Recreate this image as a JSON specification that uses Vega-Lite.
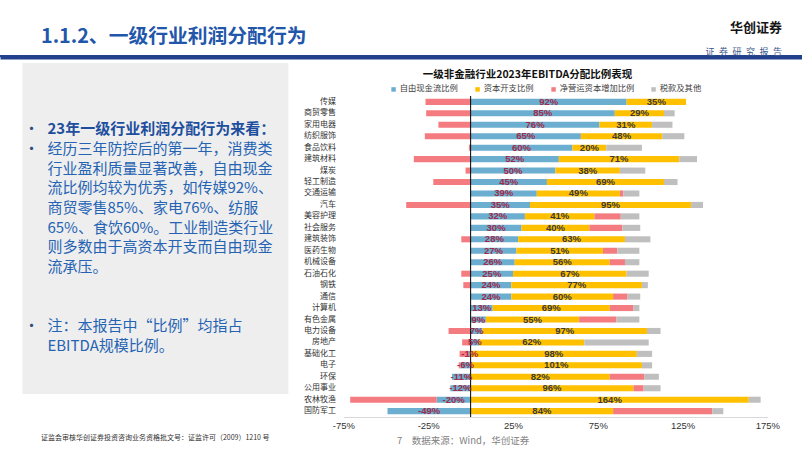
{
  "$schema": "https://vega.github.io/schema/vega-lite/v6.json",
  "background": "white",
  "padding": {"left": 0, "top": 21, "right": 0, "bottom": 6},
  "config": {
    "font": "Noto Sans CJK SC",
    "view": {"stroke": null},
    "locale": {"number": {"decimal": ".", "thousands": ",", "grouping": [3], "currency": ["", ""], "minus": "-"}}
  },
  "title": {
    "text": "华创证券\u00a0\u00a0\u00a0",
    "subtitle": "证\u2002券\u2002研\u2002究\u2002报\u2002告",
    "anchor": "end",
    "frame": "bounds",
    "dx": -20,
    "offset": -29.5,
    "fontSize": 13,
    "fontWeight": "bold",
    "color": "#151515",
    "subtitleFontSize": 9,
    "subtitleColor": "#3B5A8C",
    "subtitlePadding": 13
  },
  "datasets": {
    "series": [
      {"项目": "自由现金流比例", "序": 1},
      {"项目": "资本开支比例", "序": 2},
      {"项目": "净营运资本增加比例", "序": 3},
      {"项目": "税款及其他", "序": 4}
    ],
    "notes": [
      {"行": 0, "段": "标题", "项": "•", "文": "23年一级行业利润分配行为来看："},
      {"行": 1, "段": "正文", "项": "•", "文": "经历三年防控后的第一年，消费类"},
      {"行": 2, "段": "正文", "文": "行业盈利质量显著改善，自由现金"},
      {"行": 3, "段": "正文", "文": "流比例均较为优秀，如传媒92%、"},
      {"行": 4, "段": "正文", "文": "商贸零售85%、家电76%、纺服"},
      {"行": 5, "段": "正文", "文": "65%、食饮60%。工业制造类行业"},
      {"行": 6, "段": "正文", "文": "则多数由于高资本开支而自由现金"},
      {"行": 7, "段": "正文", "文": "流承压。"},
      {"行": 10, "段": "注", "项": "•", "文": "注：本报告中“比例”均指占"},
      {"行": 11, "段": "注", "文": "EBITDA规模比例。"}
    ],
    "rows": [
      {"行业": "传媒", "项目": "自由现金流比例", "值": 0.92},
      {"行业": "传媒", "项目": "资本开支比例", "值": 0.35},
      {"行业": "传媒", "项目": "净营运资本增加比例", "值": -0.266},
      {"行业": "商贸零售", "项目": "自由现金流比例", "值": 0.85},
      {"行业": "商贸零售", "项目": "资本开支比例", "值": 0.29},
      {"行业": "商贸零售", "项目": "净营运资本增加比例", "值": -0.262},
      {"行业": "商贸零售", "项目": "税款及其他", "值": 0.063},
      {"行业": "家用电器", "项目": "自由现金流比例", "值": 0.76},
      {"行业": "家用电器", "项目": "资本开支比例", "值": 0.31},
      {"行业": "家用电器", "项目": "净营运资本增加比例", "值": -0.19},
      {"行业": "家用电器", "项目": "税款及其他", "值": 0.12},
      {"行业": "纺织服饰", "项目": "自由现金流比例", "值": 0.65},
      {"行业": "纺织服饰", "项目": "资本开支比例", "值": 0.48},
      {"行业": "纺织服饰", "项目": "净营运资本增加比例", "值": -0.27},
      {"行业": "纺织服饰", "项目": "税款及其他", "值": 0.13},
      {"行业": "食品饮料", "项目": "自由现金流比例", "值": 0.60},
      {"行业": "食品饮料", "项目": "资本开支比例", "值": 0.20},
      {"行业": "食品饮料", "项目": "净营运资本增加比例", "值": -0.01},
      {"行业": "食品饮料", "项目": "税款及其他", "值": 0.21},
      {"行业": "建筑材料", "项目": "自由现金流比例", "值": 0.52},
      {"行业": "建筑材料", "项目": "资本开支比例", "值": 0.71},
      {"行业": "建筑材料", "项目": "净营运资本增加比例", "值": -0.335},
      {"行业": "建筑材料", "项目": "税款及其他", "值": 0.105},
      {"行业": "煤炭", "项目": "自由现金流比例", "值": 0.50},
      {"行业": "煤炭", "项目": "资本开支比例", "值": 0.38},
      {"行业": "煤炭", "项目": "净营运资本增加比例", "值": -0.03},
      {"行业": "煤炭", "项目": "税款及其他", "值": 0.15},
      {"行业": "轻工制造", "项目": "自由现金流比例", "值": 0.45},
      {"行业": "轻工制造", "项目": "资本开支比例", "值": 0.69},
      {"行业": "轻工制造", "项目": "净营运资本增加比例", "值": -0.22},
      {"行业": "轻工制造", "项目": "税款及其他", "值": 0.08},
      {"行业": "交通运输", "项目": "自由现金流比例", "值": 0.39},
      {"行业": "交通运输", "项目": "资本开支比例", "值": 0.49},
      {"行业": "交通运输", "项目": "净营运资本增加比例", "值": 0.02},
      {"行业": "交通运输", "项目": "税款及其他", "值": 0.095},
      {"行业": "汽车", "项目": "自由现金流比例", "值": 0.35},
      {"行业": "汽车", "项目": "资本开支比例", "值": 0.95},
      {"行业": "汽车", "项目": "净营运资本增加比例", "值": -0.38},
      {"行业": "汽车", "项目": "税款及其他", "值": 0.07},
      {"行业": "美容护理", "项目": "自由现金流比例", "值": 0.32},
      {"行业": "美容护理", "项目": "资本开支比例", "值": 0.41},
      {"行业": "美容护理", "项目": "净营运资本增加比例", "值": 0.155},
      {"行业": "美容护理", "项目": "税款及其他", "值": 0.11},
      {"行业": "社会服务", "项目": "自由现金流比例", "值": 0.30},
      {"行业": "社会服务", "项目": "资本开支比例", "值": 0.40},
      {"行业": "社会服务", "项目": "净营运资本增加比例", "值": 0.195},
      {"行业": "社会服务", "项目": "税款及其他", "值": 0.105},
      {"行业": "建筑装饰", "项目": "自由现金流比例", "值": 0.28},
      {"行业": "建筑装饰", "项目": "资本开支比例", "值": 0.63},
      {"行业": "建筑装饰", "项目": "净营运资本增加比例", "值": -0.055},
      {"行业": "建筑装饰", "项目": "税款及其他", "值": 0.15},
      {"行业": "医药生物", "项目": "自由现金流比例", "值": 0.27},
      {"行业": "医药生物", "项目": "资本开支比例", "值": 0.51},
      {"行业": "医药生物", "项目": "净营运资本增加比例", "值": 0.085},
      {"行业": "医药生物", "项目": "税款及其他", "值": 0.13},
      {"行业": "机械设备", "项目": "自由现金流比例", "值": 0.26},
      {"行业": "机械设备", "项目": "资本开支比例", "值": 0.56},
      {"行业": "机械设备", "项目": "净营运资本增加比例", "值": 0.09},
      {"行业": "机械设备", "项目": "税款及其他", "值": 0.085},
      {"行业": "石油石化", "项目": "自由现金流比例", "值": 0.25},
      {"行业": "石油石化", "项目": "资本开支比例", "值": 0.67},
      {"行业": "石油石化", "项目": "净营运资本增加比例", "值": -0.055},
      {"行业": "石油石化", "项目": "税款及其他", "值": 0.13},
      {"行业": "钢铁", "项目": "自由现金流比例", "值": 0.24},
      {"行业": "钢铁", "项目": "资本开支比例", "值": 0.77},
      {"行业": "钢铁", "项目": "净营运资本增加比例", "值": -0.043},
      {"行业": "钢铁", "项目": "税款及其他", "值": 0.035},
      {"行业": "通信", "项目": "自由现金流比例", "值": 0.24},
      {"行业": "通信", "项目": "资本开支比例", "值": 0.60},
      {"行业": "通信", "项目": "净营运资本增加比例", "值": 0.085},
      {"行业": "通信", "项目": "税款及其他", "值": 0.075},
      {"行业": "计算机", "项目": "自由现金流比例", "值": 0.13},
      {"行业": "计算机", "项目": "资本开支比例", "值": 0.69},
      {"行业": "计算机", "项目": "净营运资本增加比例", "值": 0.14},
      {"行业": "计算机", "项目": "税款及其他", "值": 0.035},
      {"行业": "有色金属", "项目": "自由现金流比例", "值": 0.09},
      {"行业": "有色金属", "项目": "资本开支比例", "值": 0.55},
      {"行业": "有色金属", "项目": "净营运资本增加比例", "值": 0.22},
      {"行业": "有色金属", "项目": "税款及其他", "值": 0.135},
      {"行业": "电力设备", "项目": "自由现金流比例", "值": 0.07},
      {"行业": "电力设备", "项目": "资本开支比例", "值": 0.97},
      {"行业": "电力设备", "项目": "净营运资本增加比例", "值": -0.13},
      {"行业": "电力设备", "项目": "税款及其他", "值": 0.08},
      {"行业": "房地产", "项目": "自由现金流比例", "值": 0.05},
      {"行业": "房地产", "项目": "资本开支比例", "值": 0.62},
      {"行业": "房地产", "项目": "净营运资本增加比例", "值": -0.05},
      {"行业": "房地产", "项目": "税款及其他", "值": 0.38},
      {"行业": "基础化工", "项目": "自由现金流比例", "值": -0.01},
      {"行业": "基础化工", "项目": "资本开支比例", "值": 0.98},
      {"行业": "基础化工", "项目": "净营运资本增加比例", "值": -0.055},
      {"行业": "基础化工", "项目": "税款及其他", "值": 0.09},
      {"行业": "电子", "项目": "自由现金流比例", "值": -0.06},
      {"行业": "电子", "项目": "资本开支比例", "值": 1.01},
      {"行业": "电子", "项目": "净营运资本增加比例", "值": -0.01},
      {"行业": "电子", "项目": "税款及其他", "值": 0.06},
      {"行业": "环保", "项目": "自由现金流比例", "值": -0.11},
      {"行业": "环保", "项目": "资本开支比例", "值": 0.82},
      {"行业": "环保", "项目": "净营运资本增加比例", "值": 0.205},
      {"行业": "环保", "项目": "税款及其他", "值": 0.085},
      {"行业": "公用事业", "项目": "自由现金流比例", "值": -0.12},
      {"行业": "公用事业", "项目": "资本开支比例", "值": 0.96},
      {"行业": "公用事业", "项目": "净营运资本增加比例", "值": 0.06},
      {"行业": "公用事业", "项目": "税款及其他", "值": 0.10},
      {"行业": "农林牧渔", "项目": "自由现金流比例", "值": -0.20},
      {"行业": "农林牧渔", "项目": "资本开支比例", "值": 1.64},
      {"行业": "农林牧渔", "项目": "净营运资本增加比例", "值": -0.51},
      {"行业": "农林牧渔", "项目": "税款及其他", "值": 0.07},
      {"行业": "国防军工", "项目": "自由现金流比例", "值": -0.49},
      {"行业": "国防军工", "项目": "资本开支比例", "值": 0.84},
      {"行业": "国防军工", "项目": "净营运资本增加比例", "值": 0.585},
      {"行业": "国防军工", "项目": "税款及其他", "值": 0.065}
    ]
  },
  "center": true,
  "spacing": 6,
  "resolve": {"scale": {"color": "independent"}, "legend": {"color": "independent"}},
  "vconcat": [
    {
      "width": 802,
      "height": 2,
      "title": {
        "text": "1.1.2、一级行业利润分配行为",
        "anchor": "start",
        "frame": "group",
        "dx": 41,
        "offset": 8,
        "fontSize": 19.8,
        "fontWeight": "bold",
        "color": "#2156AA"
      },
      "data": {"values": [{}]},
      "mark": {"type": "rect", "color": "#22408C"},
      "encoding": {
        "x": {
          "datum": 0, "type": "quantitative", "scale": {"domain": [0, 1]},
          "axis": {"domain": true, "domainWidth": 4, "domainColor": "#22408C", "domainCap": "butt", "labels": false, "ticks": false, "grid": false, "title": null}
        },
        "x2": {"datum": 1},
        "y": {"datum": 0, "type": "quantitative", "scale": {"domain": [0, 1]}, "axis": null},
        "y2": {"datum": 1}
      }
    },
    {
      "spacing": 15,
      "resolve": {"scale": {"color": "independent"}, "legend": {"color": "independent"}},
      "hconcat": [
        {
          "width": 266,
          "height": 331,
          "view": {"fill": "#EEEEEE", "stroke": null},
          "data": {"name": "notes"},
          "encoding": {
            "x": {
              "datum": 0,
              "type": "quantitative",
              "scale": {"domain": [0, 1]},
              "axis": {
                "domain": false, "ticks": false, "labels": false, "grid": false,
                "title": "证监会审核华创证券投资咨询业务资格批文号：证监许可（2009）1210 号",
                "titleX": 18, "titleAlign": "left", "titlePadding": 39,
                "titleFontSize": 7, "titleFontWeight": "normal", "titleColor": "#333333"
              }
            },
            "y": {
              "field": "行",
              "type": "quantitative",
              "scale": {"domain": [-3.37, 13.46], "reverse": true, "nice": false, "zero": false},
              "axis": null
            }
          },
          "layer": [
            {
              "transform": [{"filter": "datum['项'] === '•'"}],
              "mark": {"type": "text", "align": "center", "baseline": "middle", "dx": 9, "fontSize": 15, "color": "#2B4C7E"},
              "encoding": {"text": {"field": "项"}}
            },
            {
              "transform": [{"filter": "datum['段'] === '标题'"}],
              "mark": {"type": "text", "align": "left", "baseline": "middle", "dx": 25, "fontSize": 15, "fontWeight": "bold", "color": "#1D4E9E"},
              "encoding": {"text": {"field": "文"}}
            },
            {
              "transform": [{"filter": "datum['段'] !== '标题'"}],
              "mark": {"type": "text", "align": "left", "baseline": "middle", "dx": 25, "fontSize": 15, "color": "#2563B3"},
              "encoding": {"text": {"field": "文"}}
            }
          ]
        },
        {
          "spacing": 0,
          "resolve": {"scale": {"color": "independent"}, "legend": {"color": "independent"}},
          "vconcat": [
            {
              "width": 1,
              "height": 7,
              "data": {"values": [{}]},
              "mark": {"type": "text", "text": "", "fontSize": 1}
            },
            {
              "width": 424,
              "height": 321,
              "title": {
                "text": "一级非金融行业2023年EBITDA分配比例表现",
                "anchor": "middle",
                "frame": "bounds",
                "dx": -14,
                "offset": 4.3,
                "fontSize": 10.5,
                "fontWeight": "bold",
                "color": "#111111"
              },
              "data": {"name": "rows"},
              "transform": [
                {"lookup": "项目", "from": {"data": {"name": "series"}, "key": "项目", "fields": ["序"]}}
              ],
              "layer": [
                {
                  "mark": {"type": "bar"},
                  "encoding": {
                    "y": {
                      "field": "行业", "type": "nominal", "sort": null, "title": null,
                      "scale": {"paddingInner": 0.47, "paddingOuter": 0.245},
                      "axis": {"domain": false, "ticks": false, "labelPadding": 8, "labelFontSize": 8, "labelColor": "#333333"}
                    },
                    "x": {
                      "field": "值", "type": "quantitative", "stack": "zero",
                      "scale": {"domain": [-0.75, 1.75], "nice": false, "zero": false},
                      "axis": {
                        "values": [-0.75, -0.25, 0.25, 0.75, 1.25, 1.75],
                        "format": ".0%",
                        "grid": false,
                        "domain": true, "domainColor": "#D9D9D9",
                        "ticks": false,
                        "labelFlush": false,
                        "labelPadding": 3, "labelFontSize": 9.5, "labelFont": "Liberation Sans", "labelColor": "#333333",
                        "title": "7\u2003数据来源：Wind，华创证券",
                        "titleFontSize": 9.5, "titleFontWeight": "normal", "titleColor": "#7F7F7F",
                        "titleX": 53, "titleAlign": "left", "titlePadding": 6
                      }
                    },
                    "color": {
                      "field": "项目", "type": "nominal",
                      "scale": {
                        "domain": ["自由现金流比例", "资本开支比例", "净营运资本增加比例", "税款及其他"],
                        "range": ["#6BAECF", "#FFC000", "#F47B80", "#BFBFBF"]
                      },
                      "legend": {
                        "title": null, "orient": "none", "legendX": 46, "legendY": -11,
                        "direction": "horizontal", "symbolType": "square", "symbolSize": 20,
                        "symbolStrokeWidth": 0, "labelFontSize": 8.3, "labelColor": "#404040",
                        "columnPadding": 15, "labelOffset": 2, "padding": 0
                      }
                    },
                    "order": {"field": "序", "type": "quantitative"}
                  }
                },
                {
                  "data": {"values": [{}]},
                  "mark": {"type": "rule", "color": "#000000", "strokeWidth": 1},
                  "encoding": {"x": {"datum": 0, "type": "quantitative"}}
                },
                {
                  "transform": [{"filter": "datum['项目'] === '自由现金流比例' || datum['项目'] === '资本开支比例'"}],
                  "mark": {"type": "text", "fontWeight": "bold", "fontSize": 9.5, "font": "Liberation Sans", "baseline": "middle"},
                  "encoding": {
                    "y": {"field": "行业", "type": "nominal", "sort": null},
                    "x": {"field": "值", "type": "quantitative", "stack": "zero", "bandPosition": 0.5},
                    "detail": {"field": "项目"},
                    "order": {"field": "序", "type": "quantitative"},
                    "text": {"field": "值", "type": "quantitative", "format": ".0%"},
                    "color": {"condition": {"test": "datum['项目'] === '自由现金流比例'", "value": "#A02A4A"}, "value": "#3A3A3A"}
                  }
                }
              ]
            }
          ]
        }
      ]
    }
  ]
}
